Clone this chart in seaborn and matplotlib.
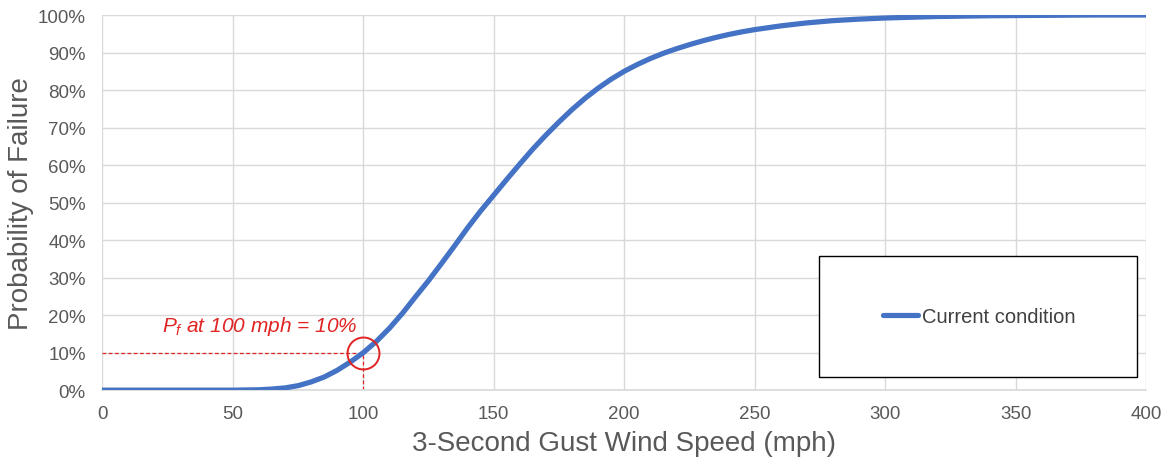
import matplotlib
matplotlib.use("Agg")
import matplotlib.pyplot as plt
from matplotlib.patches import Rectangle
from matplotlib.ticker import FuncFormatter
import seaborn as sns
import pandas as pd

# ---- data ----
wind_speed = [0, 10, 20, 30, 40, 50, 60, 65, 70, 75, 80, 85, 90, 95, 100, 105, 110,
              115, 120, 125, 130, 135, 140, 145, 150, 155, 160, 165, 170, 175, 180,
              185, 190, 195, 200, 205, 210, 215, 220, 225, 230, 235, 240, 245, 250,
              260, 270, 280, 290, 300, 320, 340, 360, 380, 400]
prob_failure = [0, 0, 0, 0, 0, 0, 0.1, 0.3, 0.6, 1.2, 2.2, 3.5, 5.3, 7.5, 10.0, 13.0, 16.5,
                20.5, 24.9, 29.2, 33.8, 38.5, 43.3, 47.8, 52.0, 56.2, 60.3, 64.3, 68.0, 71.5, 74.8,
                77.8, 80.5, 82.9, 85.0, 86.8, 88.4, 89.8, 91.0, 92.1, 93.1, 94.0, 94.8, 95.5, 96.1,
                97.1, 97.9, 98.5, 98.9, 99.2, 99.6, 99.8, 99.9, 100.0, 100.0]
series_label = "Current condition"
marker_speed = [100]
marker_prob = [10]
annotation_text = r"$P_f$ at 100 mph = 10%"
x_ticks = [0, 50, 100, 150, 200, 250, 300, 350, 400]
y_ticks = [0, 10, 20, 30, 40, 50, 60, 70, 80, 90, 100]

sns.set_style("white")
plt.rcParams["font.family"] = ["Liberation Sans", "DejaVu Sans"]
plt.rcParams["mathtext.fontset"] = "custom"
plt.rcParams["mathtext.rm"] = "Liberation Sans"
plt.rcParams["mathtext.it"] = "Liberation Sans:italic"

BLUE = "#4472C4"
RED = "#E02424"
GREY_TXT = "#595959"
GRID = "#D9D9D9"

fig = plt.figure(figsize=(11.67, 4.64), dpi=100)
ax = fig.add_axes([0.0878, 0.157, 0.8942, 0.8085])

df = pd.DataFrame({"speed": wind_speed, "prob": prob_failure})
sns.lineplot(data=df, x="speed", y="prob", ax=ax, color=BLUE, linewidth=3.75,
             label=series_label, zorder=3, solid_capstyle="round", solid_joinstyle="round")

# dashed guide lines to the highlighted point
ax.plot([wind_speed[0], marker_speed[0]], [marker_prob[0], marker_prob[0]],
        color=RED, lw=0.9, ls=(0, (3, 2)), zorder=2)
ax.plot([marker_speed[0], marker_speed[0]], [y_ticks[0], marker_prob[0]],
        color=RED, lw=0.9, ls=(0, (3, 2)), zorder=2)
ax.plot(marker_speed, marker_prob, marker="o", ms=23, mfc="none", mec=RED, mew=1.4,
        ls="none", zorder=4)
ax.text(60.2, 17.3, annotation_text, color=RED, fontsize=15, fontstyle="italic",
        ha="center", va="center")

ax.set_xlim(0, 400)
ax.set_ylim(0, 100)
ax.set_xticks(x_ticks)
ax.set_yticks(y_ticks)
ax.yaxis.set_major_formatter(FuncFormatter(lambda v, p: f"{v:.0f}%"))
ax.grid(True, color=GRID, lw=1.0, zorder=0)
ax.set_axisbelow(True)
for s in ["top", "right", "left"]:
    ax.spines[s].set_visible(False)
ax.spines["bottom"].set_color(GRID)
ax.spines["bottom"].set_linewidth(1.2)
ax.tick_params(axis="both", length=0, labelsize=13.5, labelcolor=GREY_TXT)
ax.tick_params(axis="y", pad=12)
ax.tick_params(axis="x", pad=11)

ax.set_xlabel("3-Second Gust Wind Speed (mph)", fontsize=20, color=GREY_TXT)
ax.set_ylabel("Probability of Failure", fontsize=20, color=GREY_TXT)
ax.xaxis.set_label_coords(0.5, -0.107)
ax.yaxis.set_label_coords(-0.066, 0.5)

# legend box
rect = Rectangle((0.6866, 0.0347), 0.3048, 0.3223, transform=ax.transAxes,
                 facecolor="white", edgecolor="black", lw=1.0, zorder=5)
ax.add_patch(rect)
leg = ax.legend(loc="center", bbox_to_anchor=(0.840, 0.196), frameon=False,
                fontsize=14.5, handlelength=1.76, handletextpad=0.2,
                labelcolor="#404040")
leg.set_zorder(6)

fig.savefig("out.png", dpi=100)
